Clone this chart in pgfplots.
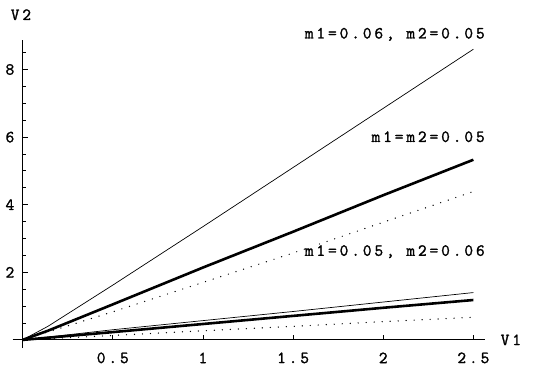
\documentclass[border=0pt]{standalone}
\usepackage{fontspec}
\setmonofont[LetterSpace=17, FakeBold=1.5]{Latin Modern Mono}
\usepackage{pgfplots}
\pgfplotsset{compat=1.18}
\begin{document}
\begin{tikzpicture}[font=\ttfamily\fontsize{17}{19}\selectfont]
\useasboundingbox (-12.7bp,-19bp) rectangle (531.3bp,348bp);
\begin{axis}[at={(0,0)}, anchor=south west, scale only axis,
  width=472.2bp, height=307.9bp,
  xmin=-0.055, xmax=2.564, ymin=-0.24, ymax=8.87,
  axis lines=middle, axis line style={-, line width=0.9bp},
  clip=false,
  xtick={0.5,1,1.5,2,2.5}, ytick={2,4,6,8},
  minor ytick={0.5,1,1.5,2.5,3,3.5,4.5,5,5.5,6.5,7,7.5,8.5},
  tick align=inside, major tick length=5bp, minor tick length=3bp,
  tick style={black, line width=0.8bp},
  /pgf/number format/assume math mode=true,
  ticklabel style={font=\ttfamily\fontsize{17}{19}\selectfont, inner sep=0pt},
  xticklabel style={anchor=center, yshift=-18bp},
  yticklabel style={anchor=center, xshift=-12.7bp},
  xlabel={V1}, ylabel={V2},
  xlabel style={at={(axis cs:2.708,0)}, anchor=center, inner sep=0pt},
  ylabel style={at={(axis cs:-0.0094,9.62)}, anchor=center, inner sep=0pt},
]
% m1=0.06, m2=0.05
\addplot[black, line width=0.7bp] coordinates {(0,0) (0.14,0.4) (0.5,1.62) (1,3.35) (1.5,5.1) (2,6.85) (2.5,8.6)};
% m1=m2=0.05
\addplot[black, line width=2.6bp] coordinates {(0,0) (0.14,0.27) (0.5,1.05) (1,2.14) (1.5,3.2) (2,4.28) (2.5,5.33)};
\addplot[black, line width=1.4bp, line cap=round, dash pattern=on 0pt off 8bp] coordinates {(0,0) (0.5,0.83) (1,1.7) (1.5,2.57) (2,3.48) (2.5,4.39)};
% m1=0.05, m2=0.06
\addplot[black, line width=0.7bp] coordinates {(0,0) (0.5,0.3) (1,0.57) (1.5,0.84) (2,1.12) (2.5,1.4)};
\addplot[black, line width=2.6bp] coordinates {(0,0) (0.5,0.23) (1,0.47) (1.5,0.71) (2,0.95) (2.5,1.18)};
\addplot[black, line width=1.4bp, line cap=round, dash pattern=on 0pt off 8bp] coordinates {(0,0) (0.5,0.13) (1,0.27) (1.5,0.4) (2,0.54) (2.5,0.67)};
\node[anchor=east, inner sep=0pt] at (axis cs:2.564,9.04) {m1=0.06, m2=0.05};
\node[anchor=east, inner sep=0pt] at (axis cs:2.564,6.01) {m1=m2=0.05};
\node[anchor=east, inner sep=0pt, fill=white] at (axis cs:2.564,2.61) {m1=0.05, m2=0.06};
\end{axis}
\end{tikzpicture}
\end{document}
